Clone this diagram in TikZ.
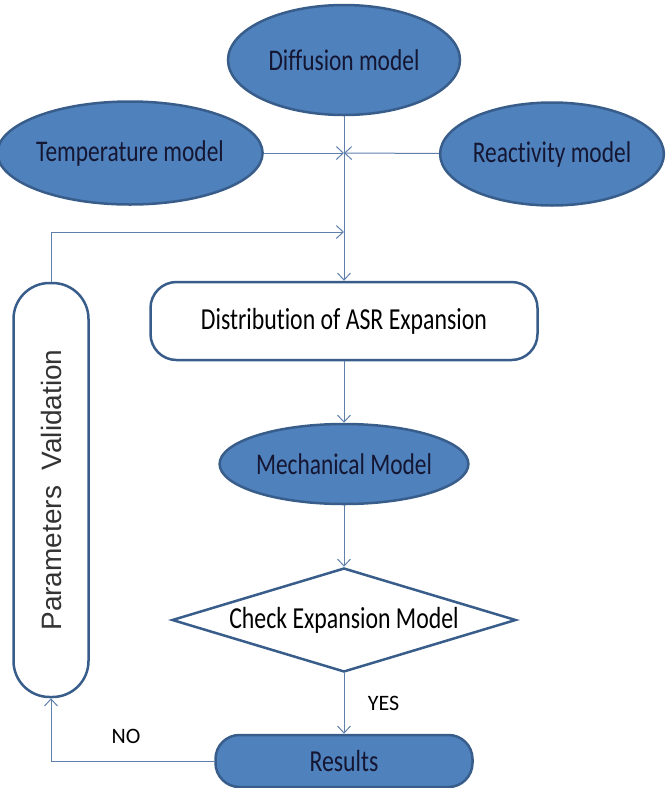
\documentclass[tikz,border=0pt]{standalone}
\usepackage{fontspec}
\setmainfont{Carlito}
\newfontfamily\narrowfont{Carlito}[FakeStretch=0.78, Ligatures=NoCommon]
\newfontfamily\arialfont{Liberation Sans}
\usetikzlibrary{calc, positioning, arrows.meta, shapes}
\definecolor{boxblue}{RGB}{79,129,189}
\definecolor{edgeblue}{RGB}{56,93,138}
\definecolor{lineblue}{RGB}{96,128,172}
\definecolor{txtnavy}{RGB}{20,22,50}

\begin{document}
\begin{tikzpicture}[x=1pt, y=-1pt,
  model/.style={ellipse, draw=edgeblue, line width=2.5pt, fill=boxblue, inner sep=0pt, text=txtnavy, font=\narrowfont\fontsize{30}{34}\selectfont},
  pill/.style={draw=edgeblue, line width=2.5pt, inner sep=0pt, font=\narrowfont\fontsize{30.5}{34}\selectfont},
  line/.style={draw=lineblue, line width=1pt, -{Straight Barb[length=7pt, width=13pt]}},
  lbl/.style={font=\fontsize{22}{25}\selectfont}]
  \useasboundingbox (0,0) rectangle (665,788);

  \node[model, minimum width=232pt, minimum height=110pt] (diff) at (344,60) {Diffusion model};
  \node[model, minimum width=244pt, minimum height=103pt] (temp) at (130,153) {Temperature model};
  \node[model, minimum width=222pt, minimum height=103pt] (react) at (552,154) {Reactivity model};
  \coordinate (junc) at (344,153);
  \coordinate (back) at (344,232);

  \node[pill, fill=white, rounded corners=26pt, minimum width=387pt, minimum height=78pt] (dist) at (344,321) {Distribution of ASR Expansion};
  \node[pill, fill=white, rotate=90, rounded corners=36pt, minimum width=414pt, minimum height=75pt, font=\arialfont\fontsize{28}{32}\selectfont, text={black!80}] (params) at (51,490) {Parameters\ \ Validation};
  \node[model, minimum width=237pt, minimum height=80pt] (mech) at (344,464) {Mechanical Model};
  \node[pill, diamond, fill=white, aspect=3.3, minimum width=344pt, minimum height=104pt] (chk) at (344,620) {Check Expansion Model};
  \node[pill, fill=boxblue, text=txtnavy, rounded corners=24pt, minimum width=257pt, minimum height=52pt] (res) at (344,761) {Results};

  \draw[line] (diff) -- (dist);
  \draw[line] (temp) -- (junc);
  \draw[line] (react) -- (junc);
  \draw[line] (params) |- (back);
  \draw[line] (dist) -- (mech);
  \draw[line] (mech) -- (chk);
  \draw[line] (chk) -- node[lbl, right=20pt] {YES} (res);
  \draw[line] (res) -| node[lbl, above=14pt, pos=0.27] {NO} (params);
\end{tikzpicture}
\end{document}
